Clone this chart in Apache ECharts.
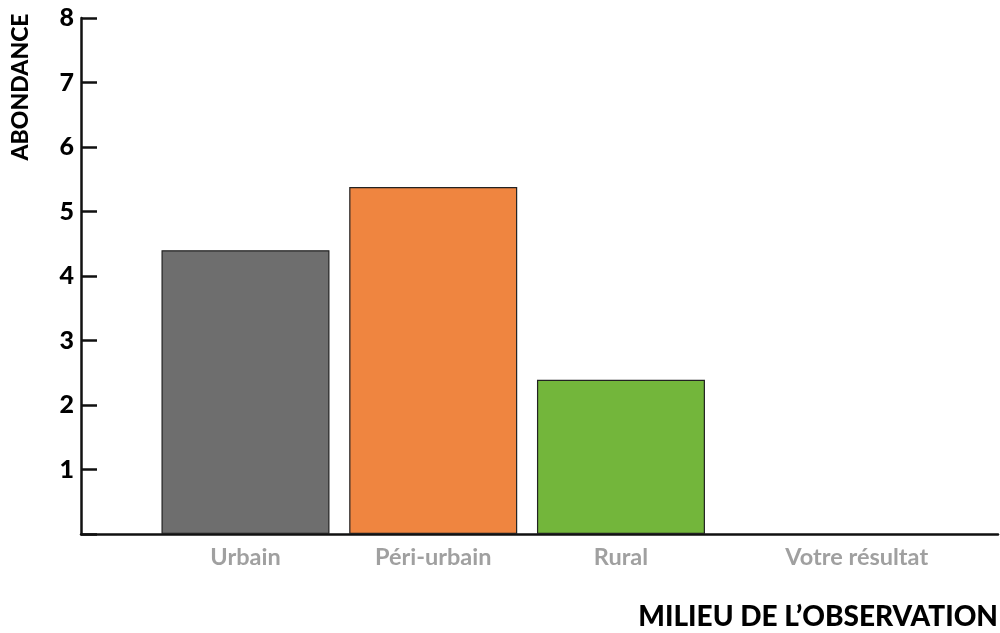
<!DOCTYPE html>
<html>
<head>
<meta charset="utf-8">
<script src="https://cdn.jsdelivr.net/npm/echarts@6/dist/echarts.min.js"></script>
<style>
html,body{margin:0;padding:0;background:#fff;}
#chart{width:1000px;height:633px;}
</style>
</head>
<body>
<div id="chart"></div>
<script>
// ---- data ----
const categories = ['Urbain', 'Péri-urbain', 'Rural', 'Votre résultat'];
const abondance = [4.4, 5.38, 2.39, null];
const yTicks = [1, 2, 3, 4, 5, 6, 7, 8];
const yAxisTitle = 'ABONDANCE';
const xAxisTitle = 'MILIEU DE L’OBSERVATION';

// ---- styles ----
const barColors = ['#6e6e6e', '#ef8540', '#73b63b', '#cccccc'];
const FONT = 'Lato, "Open Sans", sans-serif';

const chart = echarts.init(document.getElementById('chart'), null, {renderer: 'canvas'});
const option = {
  animation: false,
  backgroundColor: '#ffffff',
  grid: [
    {left: 151.6, right: 97.4, top: 18, bottom: 99},
    {left: 81, right: 2, top: 18, bottom: 99}
  ],
  xAxis: [
    {
      gridIndex: 0, type: 'category', data: categories,
      axisLine: {show: false}, axisTick: {show: false}, splitLine: {show: false},
      axisLabel: {
        interval: 0, margin: 11, color: '#a0a0a0', fontFamily: FONT, fontWeight: 'bold', fontSize: 23.5,
        formatter: function (v) { return v === 'Votre résultat' ? '{s|' + v + '}' : v; },
        rich: {s: {padding: [0, 0, 0, 96], color: '#a0a0a0', fontFamily: FONT, fontWeight: 'bold', fontSize: 23.5}}
      }
    },
    {
      gridIndex: 1, type: 'value', min: 0, max: 1,
      axisLine: {show: true, lineStyle: {color: '#111', width: 2.5}},
      axisTick: {show: false}, axisLabel: {show: false}, splitLine: {show: false}
    }
  ],
  yAxis: [
    {gridIndex: 0, type: 'value', min: 0, max: 8, show: false},
    {
      gridIndex: 1, type: 'value', min: 0, max: yTicks[yTicks.length - 1], interval: 1,
      axisLine: {show: true, lineStyle: {color: '#111', width: 2.5}},
      axisTick: {show: true, inside: true, length: 16, lineStyle: {color: '#111', width: 2.5}},
      splitLine: {show: false},
      axisLabel: {
        margin: 7, color: '#000', fontFamily: FONT, fontWeight: 900, fontSize: 25,
        formatter: function (v) { return yTicks.indexOf(v) >= 0 ? String(v) : ''; }
      }
    }
  ],
  series: [{
    type: 'bar', xAxisIndex: 0, yAxisIndex: 0, barWidth: 168,
    data: abondance.map(function (v, i) {
      return {value: v, itemStyle: {color: barColors[i], borderColor: '#222', borderWidth: 1.2}};
    })
  }],
  graphic: [
    {
      type: 'text', x: 21, y: 87, rotation: Math.PI / 2,
      style: {text: yAxisTitle, font: '900 23px ' + FONT, fill: '#000', textAlign: 'center', textVerticalAlign: 'middle'}
    },
    {
      type: 'text', x: 998, y: 617,
      style: {text: xAxisTitle, font: '900 28px ' + FONT, fill: '#000', textAlign: 'right', textVerticalAlign: 'middle'}
    }
  ]
};
chart.setOption(option);
</script>
</body>
</html>
